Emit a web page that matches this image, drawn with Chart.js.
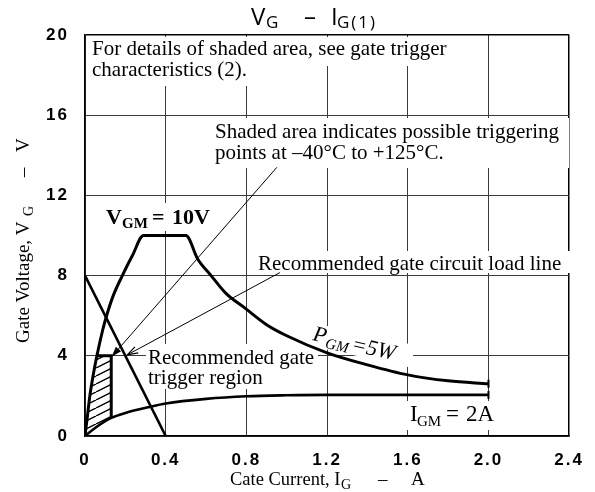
<!DOCTYPE html>
<html>
<head>
<meta charset="utf-8">
<script src="https://cdn.jsdelivr.net/npm/chart.js@4"></script>
<style>
  html, body { margin: 0; padding: 0; background: #fff; }
  #chart { display: block; }
</style>
</head>
<body>
<canvas id="chart" width="595" height="492"></canvas>
<script>
// values: gate current (A) -> gate voltage (V)
const xTicks = [0, 0.4, 0.8, 1.2, 1.6, 2.0, 2.4];
const yTicks = [0, 4, 8, 12, 16, 20];

const loadLineI = [0, 0.4];
const loadLineV = [8, 0];

// V_GM = 10V limit, then P_GM = 5W limit
const gateLimitI = [0, 0.012, 0.024, 0.04, 0.059, 0.088, 0.107, 0.14, 0.185, 0.235, 0.29, 0.5, 0.56, 0.625, 0.7, 0.79, 0.9, 1.0, 1.2, 1.4, 1.6, 1.8, 2.0];
const gateLimitV = [0, 1, 2, 3, 4, 5.3, 6, 7, 8, 9, 10, 10, 8.8, 8, 7.1, 6.4, 5.55, 5.0, 4.15, 3.55, 3.05, 2.75, 2.6];

// I_GM = 2A limit
const igmI = [0, 0.05, 0.13, 0.2, 0.32, 0.4, 0.6, 0.8, 1.0, 1.2, 1.6, 2.0];
const igmV = [0, 0.4, 0.9, 1.15, 1.45, 1.62, 1.85, 1.98, 2.03, 2.05, 2.05, 2.05];

// shaded trigger region
const shadeTopI = [0, 0.012, 0.024, 0.04, 0.059, 0.13];
const shadeTopV = [0, 1, 2, 3, 4, 4];
const shadeBottomI = [0, 0.05, 0.13];
const shadeBottomV = [0, 0.4, 0.9];
const shadeEdgeI = [0.059, 0.13, 0.13];
const shadeEdgeV = [4, 4, 0.9];

// leader lines
const arrowShadedI = [0.951, 0.132];
const arrowShadedV = [13.4, 3.95];
const arrowLoadI = [0.966, 0.21];
const arrowLoadV = [8.15, 4.05];

const noteTop = ['For details of shaded area, see gate trigger', 'characteristics (2).'];
const noteShaded = ['Shaded area indicates possible triggering', 'points at \u201340\u00b0C to +125\u00b0C.'];
const noteLoad = 'Recommended gate circuit load line';
const noteRegion = ['Recommended gate', 'trigger region'];

const SERIF = "'Liberation Serif', 'DejaVu Serif', serif";
const SANS = "'Open Sans', 'Noto Sans', sans-serif";

function pts(xs, ys) {
    return xs.map((x, i) => ({ x: x, y: ys[i] }));
}

function hatch() {
    const c = document.createElement('canvas');
    c.width = 16; c.height = 8;
    const g = c.getContext('2d');
    g.strokeStyle = '#000';
    g.lineWidth = 1.4;
    [-16, 0, 16].forEach(dx => {
        g.beginPath();
        g.moveTo(dx, 8);
        g.lineTo(dx + 16, 0);
        g.stroke();
    });
    return g.createPattern(c, 'repeat');
}

function head(ctx, from, to, filled) {
    const a = Math.atan2(to.y - from.y, to.x - from.x);
    const L = 11, w = 0.32;
    ctx.beginPath();
    ctx.moveTo(to.x - L * Math.cos(a - w), to.y - L * Math.sin(a - w));
    ctx.lineTo(to.x, to.y);
    ctx.lineTo(to.x - L * Math.cos(a + w), to.y - L * Math.sin(a + w));
    if (filled) { ctx.closePath(); ctx.fill(); } else { ctx.stroke(); }
}

// text pieces with a smaller, lowered subscript
function put(ctx, s, x, y, font) {
    ctx.font = font;
    ctx.fillText(s, x, y);
}

const notes = {
    id: 'notes',
    beforeDraw(chart) {
        chart.ctx.letterSpacing = '2px';
    },
    beforeDatasetsDraw(chart) {
        const ctx = chart.ctx;
        ctx.letterSpacing = '0px';
        ctx.save();
        // white patches where the notes interrupt the grid
        ctx.fillStyle = '#fff';
        [[87, 37, 370, 29], [87, 66, 170, 20], [212, 118, 357, 50], [256, 251, 315, 22],
         [146, 344, 172, 45], [104, 203, 112, 28], [406, 401, 94, 29]].forEach(r => ctx.fillRect(r[0], r[1], r[2], r[3]));

        ctx.fillStyle = '#000';
        ctx.textBaseline = 'alphabetic';
        const f21 = '21px ' + SERIF;
        put(ctx, noteTop[0], 92, 55, f21);
        put(ctx, noteTop[1], 92, 76, f21);
        put(ctx, noteShaded[0], 215, 138, f21);
        put(ctx, noteShaded[1], 215, 159, f21);
        put(ctx, noteLoad, 258, 270, f21);
        put(ctx, noteRegion[0], 148, 364, f21);
        put(ctx, noteRegion[1], 148, 384, f21);

        // V_GM = 10V
        put(ctx, 'V', 106, 224, 'bold 22px ' + SERIF);
        put(ctx, 'GM', 122, 228, 'bold 15px ' + SERIF);
        put(ctx, '=', 152, 224, 'bold 22px ' + SERIF);
        put(ctx, '10V', 172, 224, 'bold 22px ' + SERIF);

        // I_GM = 2A
        put(ctx, 'I', 410, 421, '23px ' + SERIF);
        put(ctx, 'GM', 417, 426, '15px ' + SERIF);
        put(ctx, '=', 446, 421, '23px ' + SERIF);
        put(ctx, '2A', 466, 421, '23px ' + SERIF);

        // P_GM = 5W, tilted along the curve
        ctx.save();
        ctx.translate(312, 340);
        ctx.rotate(0.215);
        ctx.fillStyle = '#fff';
        ctx.fillRect(-2, -17, 104, 23);
        ctx.fillStyle = '#000';
        put(ctx, 'P', 0, 0, 'italic 22px ' + SERIF);
        put(ctx, 'GM', 14, 5, 'italic 15px ' + SERIF);
        put(ctx, '=5W', 40, 2, 'italic 22px ' + SERIF);
        ctx.restore();
        ctx.restore();
    },
    afterDatasetsDraw(chart) {
        const ctx = chart.ctx;
        ctx.save();
        ctx.fillStyle = '#000';
        ctx.strokeStyle = '#000';
        ctx.lineWidth = 1.2;
        const a = chart.getDatasetMeta(6).data;
        head(ctx, a[0], a[1], true);
        const b = chart.getDatasetMeta(7).data;
        head(ctx, b[0], b[1], false);
        ctx.restore();
    },
    afterDraw(chart) {
        const ctx = chart.ctx;
        ctx.save();
        ctx.letterSpacing = '0px';
        ctx.fillStyle = '#000';
        ctx.textBaseline = 'alphabetic';
        // chart title
        put(ctx, 'V', 251, 25, '24px ' + SANS);
        put(ctx, 'G', 266, 28, '17px ' + SANS);
        put(ctx, '\u2013', 304, 25, '24px ' + SANS);
        put(ctx, 'I', 331, 25, '24px ' + SANS);
        ctx.letterSpacing = '2px';
        put(ctx, 'G(1)', 337, 28, '17px ' + SANS);
        ctx.letterSpacing = '0px';

        // x axis title
        put(ctx, 'Cate Current, I', 230, 485, '18.5px ' + SERIF);
        put(ctx, 'G', 341, 489, '14px ' + SERIF);
        put(ctx, '\u2013', 378, 485, '19px ' + SERIF);
        put(ctx, 'A', 411, 485, '19px ' + SERIF);

        // y axis title
        ctx.translate(29, 343);
        ctx.rotate(-Math.PI / 2);
        put(ctx, 'Gate Voltage, V', 0, 0, '19px ' + SERIF);
        put(ctx, 'G', 127, 4, '14px ' + SERIF);
        put(ctx, '\u2013', 166, 0, '19px ' + SERIF);
        put(ctx, 'V', 191, 0, '19px ' + SERIF);
        ctx.restore();
    }
};

const thick = { borderColor: '#000', pointRadius: 0, fill: false };
const endTick = (ctx) => ctx.dataIndex === ctx.dataset.data.length - 1 ? 4 : 0;

new Chart(document.getElementById('chart'), {
    type: 'line',
    data: {
        datasets: [
            Object.assign({ data: pts(loadLineI, loadLineV), borderWidth: 2.6 }, thick),
            Object.assign({ data: pts(gateLimitI, gateLimitV), borderWidth: 3, cubicInterpolationMode: 'monotone',
                pointStyle: 'line', rotation: 90, pointBorderWidth: 2 }, thick, { pointRadius: endTick }),
            Object.assign({ data: pts(igmI, igmV), borderWidth: 2.6, cubicInterpolationMode: 'monotone',
                pointStyle: 'line', rotation: 90, pointBorderWidth: 2 }, thick, { pointRadius: endTick }),
            { data: pts(shadeTopI, shadeTopV), borderWidth: 0, borderColor: 'rgba(0,0,0,0)', pointRadius: 0,
              cubicInterpolationMode: 'monotone', backgroundColor: hatch(), fill: 4 },
            { data: pts(shadeBottomI, shadeBottomV), borderWidth: 0, borderColor: 'rgba(0,0,0,0)', pointRadius: 0, fill: false },
            Object.assign({ data: pts(shadeEdgeI, shadeEdgeV), borderWidth: 3 }, thick),
            Object.assign({ data: pts(arrowShadedI, arrowShadedV), borderWidth: 1 }, thick),
            Object.assign({ data: pts(arrowLoadI, arrowLoadV), borderWidth: 1 }, thick)
        ]
    },
    options: {
        responsive: false,
        devicePixelRatio: 1,
        animation: false,
        events: [],
        layout: { padding: { top: 35, right: 18, left: 0, bottom: 0 } },
        plugins: {
            legend: { display: false },
            title: { display: false },
            tooltip: { enabled: false }
        },
        scales: {
            x: {
                type: 'linear',
                min: 0,
                max: 2.4,
                afterBuildTicks: s => { s.ticks = xTicks.map(v => ({ value: v })); },
                afterFit: s => { s.height = 56; },
                ticks: {
                    color: '#000',
                    padding: 14,
                    maxRotation: 0,
                    font: { family: "'Liberation Sans', Arial, sans-serif", size: 17, weight: 'bold' },
                    callback: v => v === 0 ? '0' : v.toFixed(1)
                },
                grid: {
                    drawTicks: false,
                    color: c => (c.tick && c.tick.value === 2.4) ? '#000' : '#3a3a3a',
                    lineWidth: c => (c.tick && c.tick.value === 2.4) ? 1.5 : 1
                },
                border: { color: '#000', width: 1.5 }
            },
            y: {
                type: 'linear',
                min: 0,
                max: 20,
                afterBuildTicks: s => { s.ticks = yTicks.map(v => ({ value: v })); },
                afterFit: s => { s.width = 85; },
                ticks: {
                    color: '#000',
                    padding: 16,
                    font: { family: "'Liberation Sans', Arial, sans-serif", size: 17, weight: 'bold' },
                    callback: v => String(v)
                },
                grid: {
                    drawTicks: false,
                    color: c => (c.tick && c.tick.value === 20) ? '#000' : '#3a3a3a',
                    lineWidth: c => (c.tick && c.tick.value === 20) ? 1.5 : 1
                },
                border: { color: '#000', width: 1.5 }
            }
        }
    },
    plugins: [notes]
});
</script>
</body>
</html>
